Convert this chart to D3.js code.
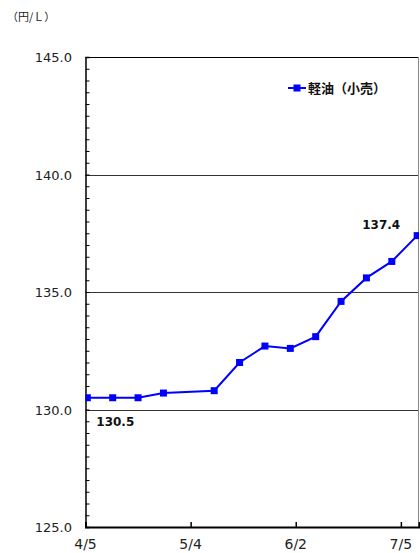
<!DOCTYPE html>
<html>
<head>
<meta charset="utf-8">
<script src="https://cdn.jsdelivr.net/npm/d3@7"></script>
<style>
  body { margin: 0; background: #fff; }
  svg { display: block; }
</style>
</head>
<body>
<script>
// weekly retail diesel price (yen per litre)
const dates = ["2021-04-05", "2021-04-12", "2021-04-19", "2021-04-26", "2021-05-10",
  "2021-05-17", "2021-05-24", "2021-05-31", "2021-06-07", "2021-06-14",
  "2021-06-21", "2021-06-28", "2021-07-05"];
const prices = [130.5, 130.5, 130.5, 130.7, 130.8, 132.0, 132.7, 132.6, 133.1, 134.6, 135.6, 136.3, 137.4];
const xTickDates = ["2021-04-05", "2021-05-04", "2021-06-02", "2021-07-01"];
const xTickLabels = ["4/5", "5/4", "6/2", "7/5"];
const yTicks = [125, 130, 135, 140, 145];
const seriesName = "軽油（小売）";
const unitLabel = "（円/Ｌ）";

const width = 420, height = 553;
const margin = { top: 57, right: 1, bottom: 26, left: 85.5 };
const font = "'DejaVu Sans', sans-serif";

const parse = d3.timeParse("%Y-%m-%d");
const parseNoon = (s) => d3.timeHour.offset(parse(s), 12);
const data = dates.map((d, i) => ({ date: parseNoon(d), value: prices[i] }));

const svg = d3.select("body").append("svg")
  .attr("width", width).attr("height", height);

const x = d3.scaleTime()
  .domain([parse("2021-04-05"), parse("2021-07-06")])
  .range([margin.left, width - margin.right]);
const y = d3.scaleLinear()
  .domain([125, 145])
  .range([height - margin.bottom, margin.top]);

// gridlines
svg.append("g")
  .selectAll("line")
  .data(yTicks.slice(1, -1))
  .join("line")
  .attr("x1", x.range()[0]).attr("x2", x.range()[1])
  .attr("y1", (d) => Math.round(y(d)) + 0.5).attr("y2", (d) => Math.round(y(d)) + 0.5)
  .attr("stroke", "#333").attr("stroke-width", 1);

// frame: top black, right grey
svg.append("line")
  .attr("x1", x.range()[0]).attr("x2", x.range()[1])
  .attr("y1", y(145) + 0.5).attr("y2", y(145) + 0.5)
  .attr("stroke", "#000");
svg.append("line")
  .attr("x1", x.range()[1] - 0.5).attr("x2", x.range()[1] - 0.5)
  .attr("y1", y(145)).attr("y2", y(125))
  .attr("stroke", "#888");

// y axis with minor ticks every 0.5 pointing inward
const yAxis = d3.axisRight(y)
  .tickValues(d3.range(125, 145.01, 0.5))
  .tickSize(4)
  .tickFormat("");
svg.append("g")
  .attr("transform", `translate(${x.range()[0]},0)`)
  .call(yAxis)
  .call((g) => g.select(".domain").attr("stroke", "#000").attr("stroke-width", 1.5))
  .call((g) => g.selectAll(".tick line").attr("stroke", "#000"));

// y labels
svg.append("g")
  .selectAll("text")
  .data(yTicks)
  .join("text")
  .attr("x", 72)
  .attr("y", (d) => y(d) + 5)
  .attr("text-anchor", "end")
  .attr("font-family", font)
  .attr("font-size", 13)
  .attr("fill", "#222")
  .text((d) => d3.format(".1f")(d));

// x axis, ticks upward
const xAxis = d3.axisTop(x)
  .tickValues(xTickDates.map(parse))
  .tickSize(5)
  .tickFormat("");
svg.append("g")
  .attr("transform", `translate(0,${y(125)})`)
  .call(xAxis)
  .call((g) => g.select(".domain").attr("stroke", "#000").attr("stroke-width", 2))
  .call((g) => g.selectAll(".tick line").attr("stroke", "#000").attr("stroke-width", 1.5));

svg.append("g")
  .selectAll("text")
  .data(xTickDates)
  .join("text")
  .attr("x", (d) => x(parse(d)))
  .attr("y", height - 4)
  .attr("text-anchor", "middle")
  .attr("font-family", font)
  .attr("font-size", 14)
  .attr("fill", "#222")
  .text((d, i) => xTickLabels[i]);

// unit label
svg.append("text")
  .attr("x", 7).attr("y", 21)
  .attr("font-family", "'Noto Sans CJK JP', sans-serif")
  .attr("font-size", 11)
  .attr("fill", "#222")
  .text(unitLabel);

// line and markers
svg.append("defs").append("clipPath").attr("id", "plot")
  .append("rect")
  .attr("x", x.range()[0]).attr("y", y(145))
  .attr("width", x.range()[1] - x.range()[0]).attr("height", y(125) - y(145));

const plot = svg.append("g").attr("clip-path", "url(#plot)");
plot.append("path")
  .datum(data)
  .attr("fill", "none")
  .attr("stroke", "#0000ff")
  .attr("stroke-width", 2)
  .attr("d", d3.line().x((d) => x(d.date)).y((d) => y(d.value)));

plot.selectAll("rect.pt")
  .data(data)
  .join("rect")
  .attr("class", "pt")
  .attr("x", (d) => x(d.date) - 3.5)
  .attr("y", (d) => y(d.value) - 3.5)
  .attr("width", 7).attr("height", 7)
  .attr("fill", "#0000ff");

// value labels at first and last point
const first = data[0], last = data[data.length - 1];
svg.append("text")
  .attr("x", x(first.date) + 9).attr("y", y(first.value) + 28)
  .attr("font-family", font).attr("font-size", 12).attr("font-weight", "bold")
  .attr("fill", "#111")
  .text(first.value.toFixed(1));
svg.append("text")
  .attr("x", x(last.date) - 17).attr("y", y(last.value) - 7)
  .attr("text-anchor", "end")
  .attr("font-family", font).attr("font-size", 12).attr("font-weight", "bold")
  .attr("fill", "#111")
  .text(last.value.toFixed(1));

// legend
const legend = svg.append("g").attr("transform", "translate(288,88)");
legend.append("line")
  .attr("x1", 0).attr("x2", 18)
  .attr("stroke", "#0000ff").attr("stroke-width", 2);
legend.append("rect")
  .attr("x", 5.5).attr("y", -3.5).attr("width", 7).attr("height", 7)
  .attr("fill", "#0000ff");
legend.append("text")
  .attr("x", 20).attr("y", 5)
  .attr("font-family", "'Noto Sans CJK JP', sans-serif")
  .attr("font-size", 13).attr("font-weight", "bold")
  .attr("fill", "#111")
  .text(seriesName);
</script>
</body>
</html>
